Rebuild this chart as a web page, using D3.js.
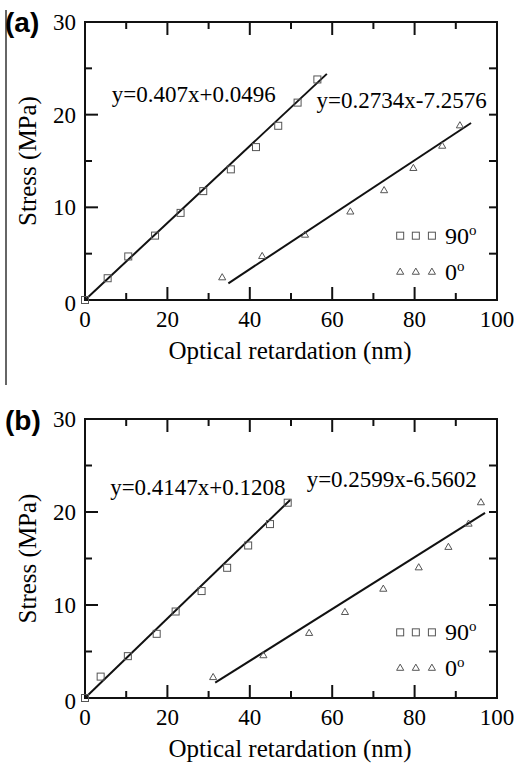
<!DOCTYPE html>
<html>
<head>
<meta charset="utf-8">
<script src="https://cdn.jsdelivr.net/npm/d3@7"></script>
<style>
  body { margin: 0; background: #fff; }
  text { font-family: "Liberation Serif", "Times New Roman", serif; fill: #000; }
  text.letter { font-family: "Liberation Sans", Arial, sans-serif; font-weight: bold; }
</style>
</head>
<body>
<svg id="chart" width="515" height="764"></svg>
<script>
// axis ticks
const xMajor = [0, 20, 40, 60, 80, 100];
const xMinor = [10, 30, 50, 70, 90];
const yMajor = [0, 10, 20, 30];
const yMinor = [5, 15, 25];
const yRight = [5, 10, 15, 20, 25];

// panel (a) data: optical retardation (nm) vs stress (MPa)
const a90x = [0, 5.5, 10.5, 17.0, 23.2, 28.7, 35.4, 41.5, 46.9, 51.6, 56.4];
const a90y = [0, 2.35, 4.7, 6.95, 9.4, 11.75, 14.1, 16.5, 18.8, 21.3, 23.8];
const a0x = [33.3, 43.0, 53.4, 64.4, 72.6, 79.7, 86.7, 91.0];
const a0y = [2.4, 4.7, 7.0, 9.5, 11.8, 14.2, 16.6, 18.8];
const a90fit = [[0, 0], [58.7, 24.4]];
const a0fit = [[34.8, 1.8], [93.7, 19.1]];

// panel (b) data
const b90x = [0, 3.8, 10.4, 17.4, 22.0, 28.3, 34.5, 39.6, 44.9, 49.2];
const b90y = [0, 2.3, 4.5, 6.9, 9.3, 11.5, 14.0, 16.4, 18.7, 21.0];
const b0x = [31.1, 43.3, 54.4, 63.1, 72.4, 81.0, 88.2, 93.1, 96.1];
const b0y = [2.2, 4.55, 6.95, 9.2, 11.7, 14.0, 16.2, 18.7, 21.0];
const b90fit = [[0, 0], [49.8, 21.3]];
const b0fit = [[31.6, 1.65], [97.1, 19.9]];

const svg = d3.select('#chart');
const markColor = '#555';

// thin rule on the left like the source page
svg.append('line')
    .attr('x1', 6).attr('x2', 6).attr('y1', 10).attr('y2', 385)
    .attr('stroke', '#333').attr('stroke-width', 1.5);

function drawPanel(p) {
  const x = d3.scaleLinear().domain([0, 100]).range([85, 497]);
  const y = d3.scaleLinear().domain([0, 30]).range([p.bottom, p.top]);
  const g = svg.append('g');

  // frame
  g.append('rect')
      .attr('x', x(0)).attr('y', y(30))
      .attr('width', x(100) - x(0)).attr('height', y(0) - y(30))
      .attr('fill', 'none').attr('stroke', '#111').attr('stroke-width', 2);

  // inward ticks
  const tick = (x1, y1, x2, y2) => g.append('line')
      .attr('x1', x1).attr('y1', y1).attr('x2', x2).attr('y2', y2)
      .attr('stroke', '#111').attr('stroke-width', 2);
  xMajor.forEach(v => { tick(x(v), y(0), x(v), y(0) - 13); tick(x(v), y(30), x(v), y(30) + 13); });
  xMinor.forEach(v => { tick(x(v), y(0), x(v), y(0) - 7); tick(x(v), y(30), x(v), y(30) + 7); });
  yMajor.forEach(v => tick(x(0), y(v), x(0) + 13, y(v)));
  yMinor.forEach(v => tick(x(0), y(v), x(0) + 7, y(v)));
  yRight.forEach(v => tick(x(100), y(v), x(100) - 8, y(v)));

  // tick labels
  g.selectAll('.xl').data(xMajor).enter().append('text')
      .attr('x', d => x(d)).attr('y', y(0) + 27)
      .attr('text-anchor', 'middle').attr('font-size', 23)
      .text(d => d);
  g.selectAll('.yl').data(yMajor).enter().append('text')
      .attr('x', x(0) - 9).attr('y', d => y(d) + (d === 0 ? 11 : 8))
      .attr('text-anchor', 'end').attr('font-size', 23)
      .text(d => d);

  // axis titles
  g.append('text')
      .attr('x', 290).attr('y', y(0) + 59)
      .attr('text-anchor', 'middle').attr('font-size', 25)
      .text('Optical retardation (nm)');
  g.append('text')
      .attr('transform', 'translate(36,' + (y(15)) + ') rotate(-90)')
      .attr('text-anchor', 'middle').attr('font-size', 25)
      .text('Stress (MPa)');

  // panel letter
  g.append('text')
      .attr('class', 'letter')
      .attr('x', 5).attr('y', p.letterY)
      .attr('font-size', 28)
      .text(p.letter);

  // fit lines
  const line = d3.line().x(d => x(d[0])).y(d => y(d[1]));
  [p.fit90, p.fit0].forEach(f => g.append('path')
      .attr('d', line(f)).attr('fill', 'none')
      .attr('stroke', '#111').attr('stroke-width', 2));

  // markers
  const sq = 7;
  g.selectAll('.sq').data(d3.zip(p.x90, p.y90)).enter().append('rect')
      .attr('x', d => x(d[0]) - sq / 2).attr('y', d => y(d[1]) - sq / 2)
      .attr('width', sq).attr('height', sq)
      .attr('fill', 'none').attr('stroke', markColor).attr('stroke-width', 1);
  const tri = d3.symbol().type(d3.symbolTriangle).size(22);
  g.selectAll('.tr').data(d3.zip(p.x0, p.y0)).enter().append('path')
      .attr('d', tri)
      .attr('transform', d => 'translate(' + x(d[0]) + ',' + y(d[1]) + ')')
      .attr('fill', 'none').attr('stroke', markColor).attr('stroke-width', 1);

  // equations
  p.eqs.forEach(e => g.append('text')
      .attr('x', x(e.x)).attr('y', y(e.y))
      .attr('font-size', 23)
      .text(e.t));

  // legend
  const lx = [76.5, 80.3, 84.2];
  g.selectAll('.lsq').data(lx).enter().append('rect')
      .attr('x', d => x(d) - sq / 2).attr('y', y(p.legY[0]) - sq / 2)
      .attr('width', sq).attr('height', sq)
      .attr('fill', 'none').attr('stroke', markColor).attr('stroke-width', 1);
  g.selectAll('.ltr').data(lx).enter().append('path')
      .attr('d', tri)
      .attr('transform', d => 'translate(' + x(d) + ',' + y(p.legY[1]) + ')')
      .attr('fill', 'none').attr('stroke', markColor).attr('stroke-width', 1);
  ['90', '0'].forEach((s, i) => {
    const t = g.append('text')
        .attr('x', x(87.4)).attr('y', y(p.legY[i]) + 8)
        .attr('font-size', 24)
        .text(s);
    t.append('tspan').attr('font-size', 15).attr('dy', -9).text('o');
  });
}

drawPanel({
  letter: '(a)', letterY: 32, top: 22, bottom: 300,
  x90: a90x, y90: a90y, x0: a0x, y0: a0y, fit90: a90fit, fit0: a0fit,
  eqs: [{t: 'y=0.407x+0.0496', x: 6.5, y: 21.4}, {t: 'y=0.2734x-7.2576', x: 56.2, y: 20.7}],
  legY: [6.94, 3.0]
});
drawPanel({
  letter: '(b)', letterY: 430, top: 419, bottom: 698,
  x90: b90x, y90: b90y, x0: b0x, y0: b0y, fit90: b90fit, fit0: b0fit,
  eqs: [{t: 'y=0.4147x+0.1208', x: 6.1, y: 21.8}, {t: 'y=0.2599x-6.5602', x: 53.8, y: 22.65}],
  legY: [7.06, 3.2]
});
</script>
</body>
</html>
